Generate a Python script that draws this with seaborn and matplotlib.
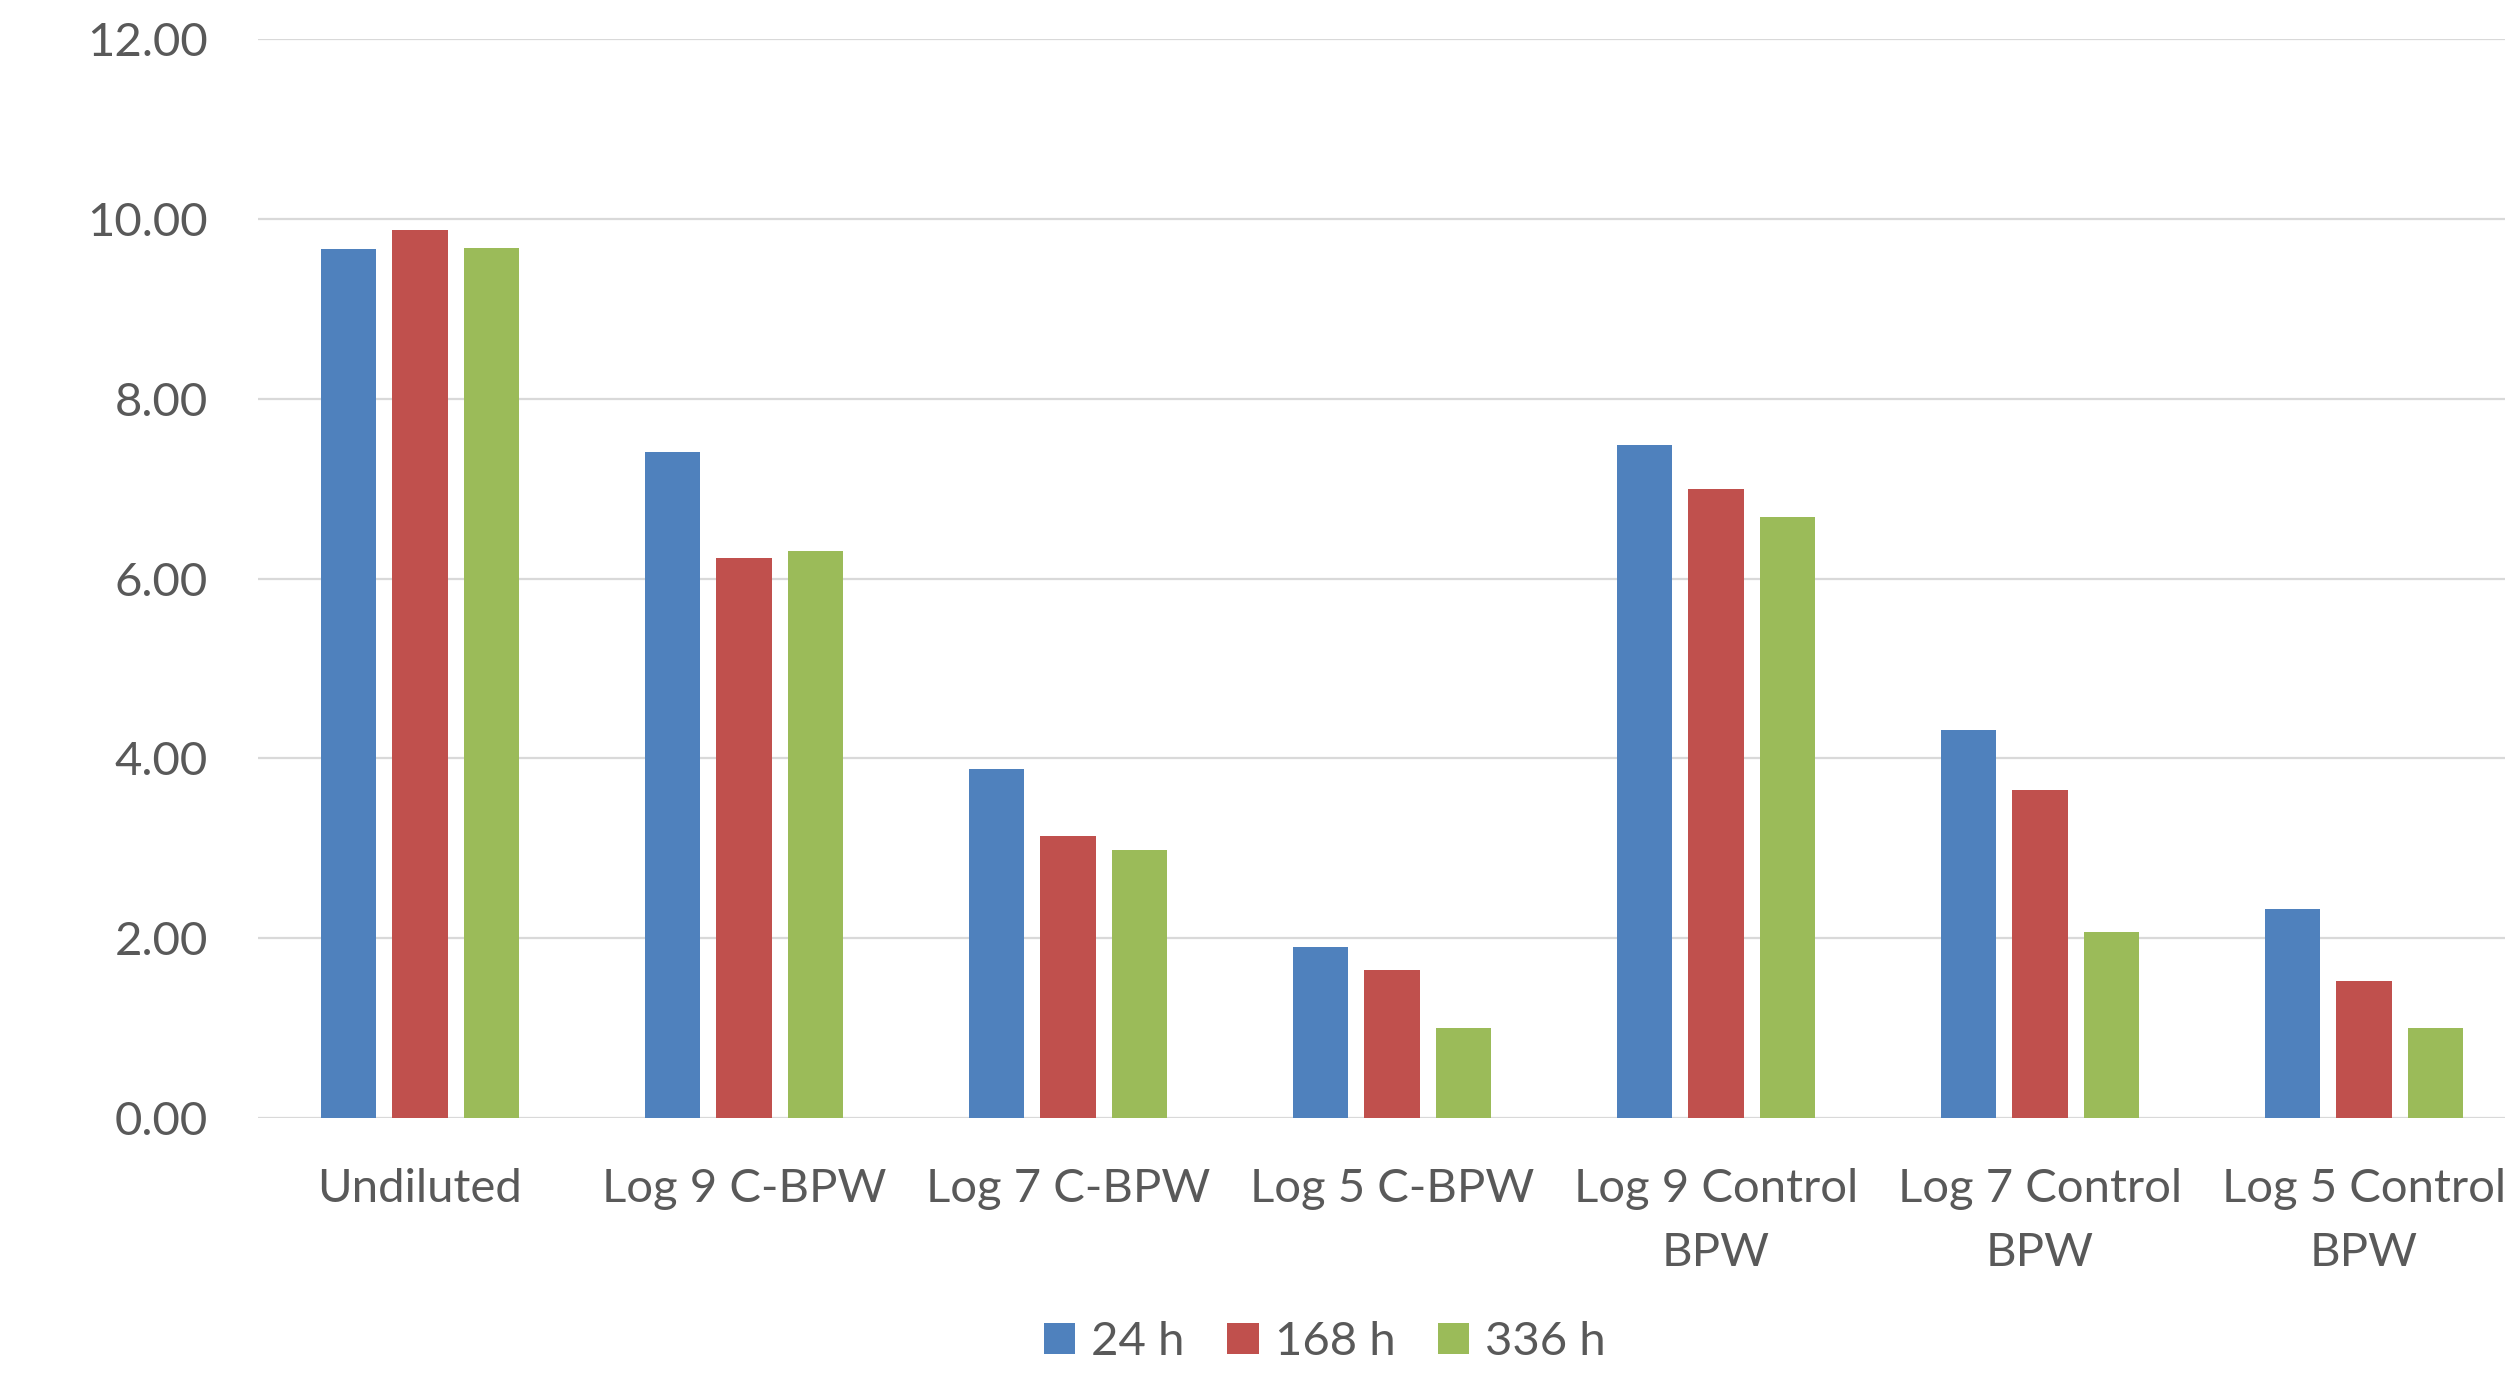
import matplotlib
matplotlib.use("Agg")
import matplotlib.pyplot as plt
from matplotlib.patches import Patch
import seaborn as sns
import pandas as pd

categories = ["Undiluted", "Log 9 C-BPW", "Log 7 C-BPW", "Log 5 C-BPW",
              "Log 9 Control\nBPW", "Log 7 Control\nBPW", "Log 5 Control\nBPW"]
times = ["24 h", "168 h", "336 h"]
h24 = [9.67, 7.41, 3.88, 1.90, 7.48, 4.32, 2.32]
h168 = [9.88, 6.23, 3.14, 1.65, 6.99, 3.65, 1.52]
h336 = [9.68, 6.31, 2.98, 1.00, 6.68, 2.07, 1.00]
y_ticks = [0, 2, 4, 6, 8, 10, 12]

colors = ["#4F81BD", "#C0504D", "#9BBB59"]
text_color = "#595959"
grid_color = "#D9D9D9"

rows = []
for t, vals in zip(times, [h24, h168, h336]):
    for c, v in zip(categories, vals):
        rows.append({"category": c, "time": t, "value": v})
df = pd.DataFrame(rows)

sns.set_theme(style="white")
plt.rcParams["font.family"] = ["Lato", "DejaVu Sans"]

fig = plt.figure(figsize=(25.05, 13.76), dpi=100)
ax = fig.add_axes([258 / 2505, 1 - 1118 / 1376, 2268 / 2505, (1118 - 39) / 1376])

sns.barplot(data=df, x="category", y="value", hue="time", order=categories,
            hue_order=times, palette=colors, width=0.662, gap=0.217,
            linewidth=0, saturation=1, legend=False, ax=ax)

ax.set_xlim(-0.5, len(categories) - 0.5)
ax.set_ylim(0, 12)
ax.set_yticks(y_ticks)
ax.set_yticklabels([f"{v:.2f}" for v in y_ticks])
ax.set_xlabel("")
ax.set_ylabel("")
ax.set_axisbelow(True)
ax.yaxis.grid(True, color=grid_color, linewidth=1.6)
ax.xaxis.grid(False)
for s in ax.spines.values():
    s.set_visible(False)
ax.tick_params(axis="y", length=0, pad=36, labelsize=34, labelcolor=text_color)
ax.tick_params(axis="x", length=0, pad=36, labelsize=34, labelcolor=text_color)
for lab in ax.get_xticklabels():
    lab.set_linespacing(1.66)

handles = [Patch(facecolor=c, edgecolor="none", label=t) for c, t in zip(colors, times)]
fig.legend(handles=handles, loc="center", bbox_to_anchor=(1325 / 2505, 1 - 1342 / 1376),
           ncol=3, frameon=False, fontsize=34, labelcolor=text_color,
           handlelength=0.66, handleheight=0.66, handletextpad=0.34,
           columnspacing=0.9)

fig.savefig("out.png", dpi=100, facecolor="white")
